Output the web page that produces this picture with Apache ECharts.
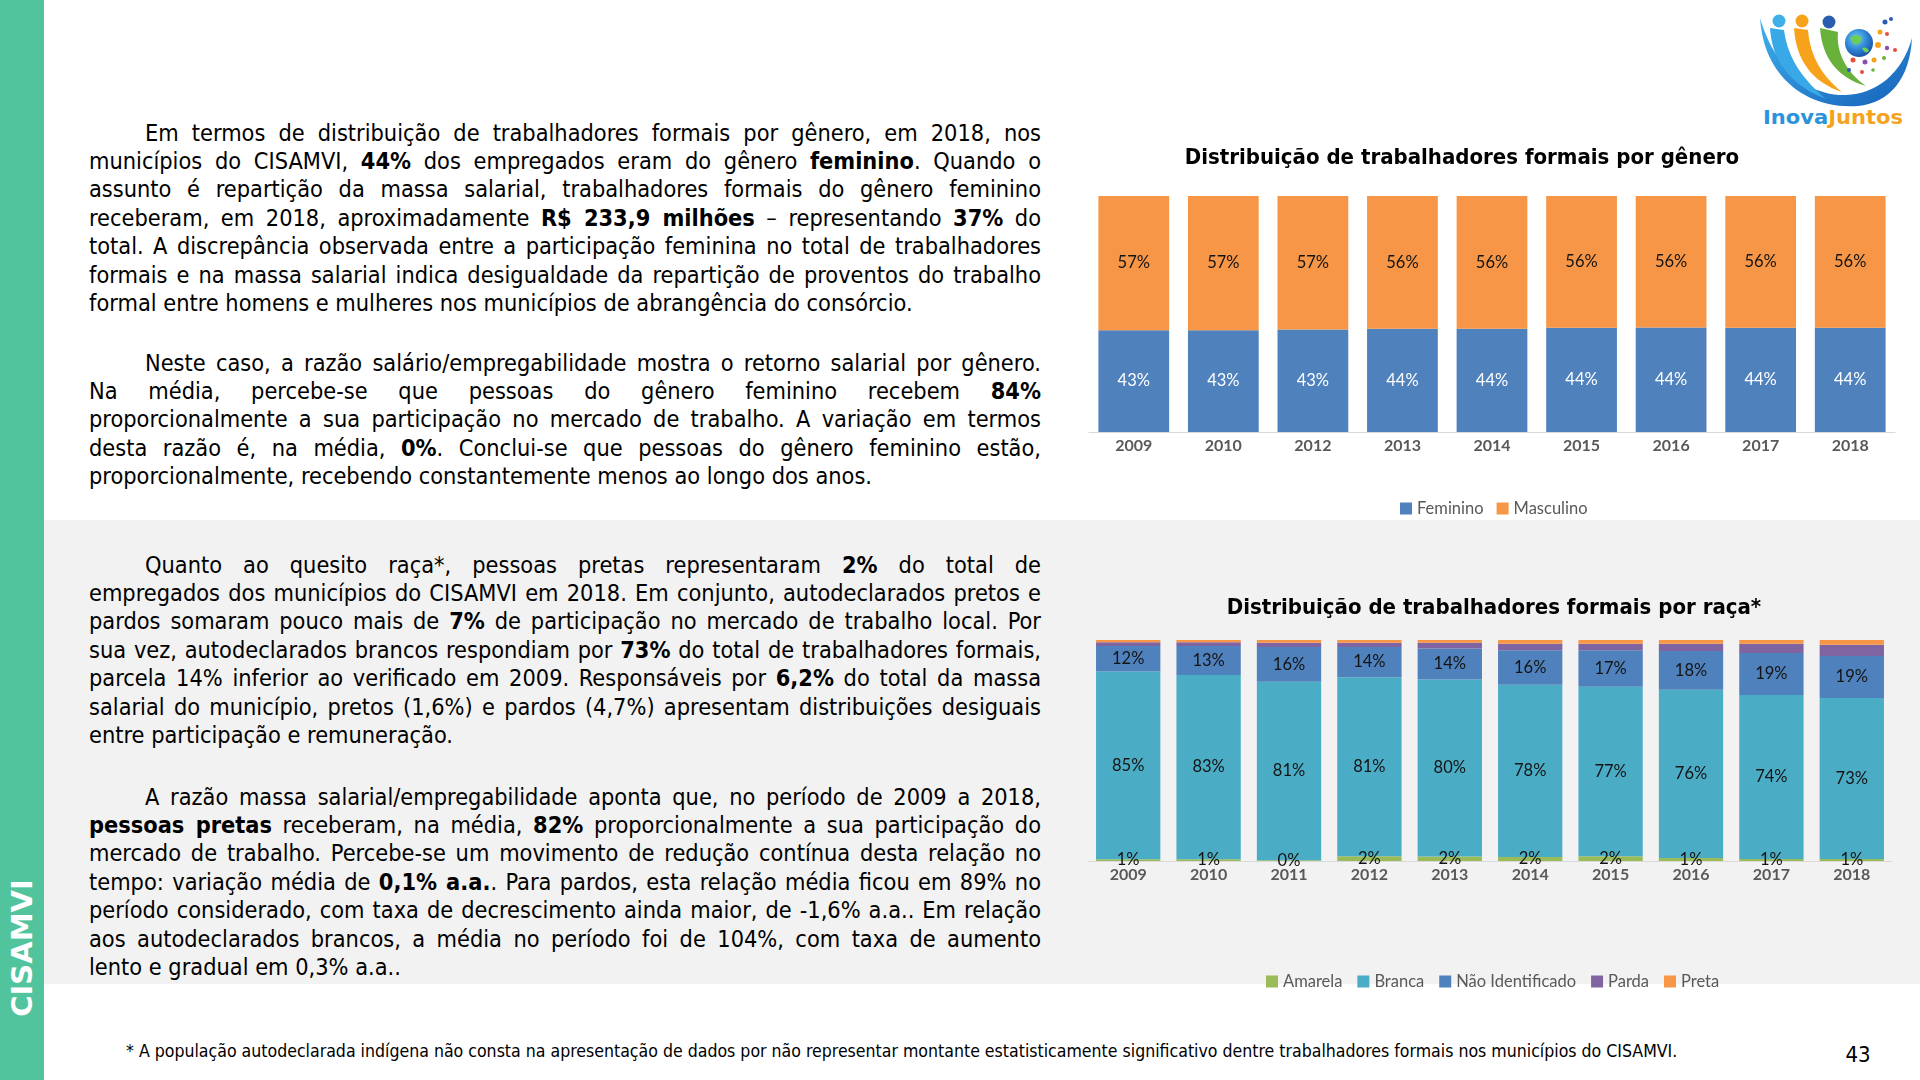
<!DOCTYPE html>
<html><head><meta charset="utf-8">
<script src="https://cdn.jsdelivr.net/npm/echarts@6/dist/echarts.min.js"></script>
<style>
html,body{margin:0;padding:0;width:1920px;height:1080px;overflow:hidden;background:#fff;}
#side{position:absolute;left:0;top:0;width:44px;height:1080px;background:#52c49d;}
#sideText{position:absolute;left:22px;top:948px;transform:translate(-50%,-50%) rotate(-90deg);color:#fff;font-weight:bold;font-size:29px;font-family:'DejaVu Sans',sans-serif;white-space:nowrap;}
#band{position:absolute;left:44px;top:520px;width:1876px;height:464px;background:#f2f2f2;}
.para{position:absolute;left:89px;width:952px;font-family:'DejaVu Sans Condensed','DejaVu Sans',sans-serif;color:#000;font-size:22px;}
.ln{white-space:nowrap;height:28.35px;line-height:28.35px;text-align:left;}
.ln.j{text-align:justify;text-align-last:justify;}
.ln.first{text-indent:56px;}
#foot{position:absolute;left:126px;top:1040px;font-family:'DejaVu Sans Condensed','DejaVu Sans',sans-serif;font-size:15px;white-space:nowrap;color:#000;line-height:22px;}
#page{position:absolute;left:1858px;top:1054px;transform:translate(-50%,-50%);font-family:'DejaVu Sans Condensed','DejaVu Sans',sans-serif;font-size:22px;color:#000;}
#logo{position:absolute;left:1750px;top:0;width:170px;height:140px;}
#chart{position:absolute;left:0;top:0;width:1920px;height:1080px;}
</style></head>
<body>
<div id="side"><div id="sideText">CISAMVI</div></div>
<div id="band"></div>

<div class="para" id="p1" style="top:118.8px">
<div class="ln first"><span>Em termos de distribuição de trabalhadores formais por gênero, em 2018, nos</span></div>
<div class="ln"><span>municípios do CISAMVI, <b>44%</b> dos empregados eram do gênero <b>feminino</b>. Quando o</span></div>
<div class="ln"><span>assunto é repartição da massa salarial, trabalhadores formais do gênero feminino</span></div>
<div class="ln"><span>receberam, em 2018, aproximadamente <b>R$ 233,9 milhões</b> – representando <b>37%</b> do</span></div>
<div class="ln"><span>total. A discrepância observada entre a participação feminina no total de trabalhadores</span></div>
<div class="ln"><span>formais e na massa salarial indica desigualdade da repartição de proventos do trabalho</span></div>
<div class="ln last" id="refline"><span>formal entre homens e mulheres nos municípios de abrangência do consórcio.</span></div>
</div>

<div class="para" id="p2" style="top:348.8px">
<div class="ln first"><span>Neste caso, a razão salário/empregabilidade mostra o retorno salarial por gênero.</span></div>
<div class="ln"><span>Na média, percebe-se que pessoas do gênero feminino recebem <b>84%</b></span></div>
<div class="ln"><span>proporcionalmente a sua participação no mercado de trabalho. A variação em termos</span></div>
<div class="ln"><span>desta razão é, na média, <b>0%</b>. Conclui-se que pessoas do gênero feminino estão,</span></div>
<div class="ln last"><span>proporcionalmente, recebendo constantemente menos ao longo dos anos.</span></div>
</div>

<div class="para" id="p3" style="top:550.8px">
<div class="ln first"><span>Quanto ao quesito raça*, pessoas pretas representaram <b>2%</b> do total de</span></div>
<div class="ln"><span>empregados dos municípios do CISAMVI em 2018. Em conjunto, autodeclarados pretos e</span></div>
<div class="ln"><span>pardos somaram pouco mais de <b>7%</b> de participação no mercado de trabalho local. Por</span></div>
<div class="ln"><span>sua vez, autodeclarados brancos respondiam por <b>73%</b> do total de trabalhadores formais,</span></div>
<div class="ln"><span>parcela 14% inferior ao verificado em 2009. Responsáveis por <b>6,2%</b> do total da massa</span></div>
<div class="ln"><span>salarial do município, pretos (1,6%) e pardos (4,7%) apresentam distribuições desiguais</span></div>
<div class="ln last"><span>entre participação e remuneração.</span></div>
</div>

<div class="para" id="p4" style="top:782.8px">
<div class="ln first"><span>A razão massa salarial/empregabilidade aponta que, no período de 2009 a 2018,</span></div>
<div class="ln"><span><b>pessoas pretas</b> receberam, na média, <b>82%</b> proporcionalmente a sua participação do</span></div>
<div class="ln"><span>mercado de trabalho. Percebe-se um movimento de redução contínua desta relação no</span></div>
<div class="ln"><span>tempo: variação média de <b>0,1% a.a.</b>. Para pardos, esta relação média ficou em 89% no</span></div>
<div class="ln"><span>período considerado, com taxa de decrescimento ainda maior, de -1,6% a.a.. Em relação</span></div>
<div class="ln"><span>aos autodeclarados brancos, a média no período foi de 104%, com taxa de aumento</span></div>
<div class="ln last"><span>lento e gradual em 0,3% a.a..</span></div>
</div>

<div id="foot"><span>* A população autodeclarada indígena não consta na apresentação de dados por não representar montante estatisticamente significativo dentre trabalhadores formais nos municípios do CISAMVI.</span></div>
<div id="page">43</div>

<svg id="logo" viewBox="0 0 170 140" xmlns="http://www.w3.org/2000/svg">
<defs>
<linearGradient id="gb" x1="0" y1="0" x2="1" y2="1"><stop offset="0" stop-color="#3fb2f0"/><stop offset="1" stop-color="#1560b8"/></linearGradient>
<radialGradient id="gg" cx="0.4" cy="0.35" r="0.7"><stop offset="0" stop-color="#6fd0f5"/><stop offset="0.6" stop-color="#2a7fd0"/><stop offset="1" stop-color="#1a4fa0"/></radialGradient>
</defs>
<path d="M10,18 C14,80 60,110 108,106 C140,103 160,78 162,38 C152,74 126,94 96,95 C56,96 24,66 10,18 Z" fill="url(#gb)"/>
<path d="M20,28 C22,62 42,86 76,99 C54,80 38,60 34,30 Z" fill="#38a9e6"/>
<path d="M44,28 C46,60 62,82 92,92 C72,76 60,56 58,30 Z" fill="#f7a21b"/>
<path d="M70,28 C72,58 88,78 116,86 C96,72 86,52 88,32 Z" fill="#68b23c"/>
<circle cx="29" cy="21" r="6.5" fill="#3fb0e8"/>
<circle cx="52" cy="21" r="6.5" fill="#f7a21b"/>
<circle cx="79" cy="22" r="6.5" fill="#2a5db0"/>
<circle cx="109" cy="43" r="14" fill="url(#gg)"/>
<path d="M100,38 q6,-6 12,0 q-2,8 -8,6 z M112,48 q5,-2 7,3 q-4,4 -7,-3 z" fill="#6ccf55"/>
<circle cx="135" cy="22" r="2.5" fill="#2a5db0"/>
<circle cx="141" cy="19" r="2" fill="#2a5db0"/>
<circle cx="130" cy="32" r="2.5" fill="#f7a21b"/>
<circle cx="137" cy="34" r="2" fill="#e84c3d"/>
<circle cx="128" cy="45" r="3" fill="#f7a21b"/>
<circle cx="137" cy="48" r="2.2" fill="#8b4fb0"/>
<circle cx="145" cy="50" r="2" fill="#e84c3d"/>
<circle cx="103" cy="60" r="2.5" fill="#e84c3d"/>
<circle cx="115" cy="62" r="2.5" fill="#8b4fb0"/>
<circle cx="124" cy="60" r="2.5" fill="#f7a21b"/>
<circle cx="134" cy="58" r="2" fill="#68b23c"/>
<circle cx="99" cy="70" r="2" fill="#2a5db0"/>
<circle cx="112" cy="72" r="2" fill="#e84c3d"/>
<circle cx="123" cy="70" r="1.8" fill="#68b23c"/>
<text x="13" y="123.5" textLength="140" lengthAdjust="spacingAndGlyphs" font-family="DejaVu Sans Condensed, DejaVu Sans, sans-serif" font-weight="bold" font-size="20"><tspan fill="#2b93dc">Inova</tspan><tspan fill="#f5a31f">Juntos</tspan></text>
</svg>

<div id="chart"></div>

<script>
// ---- DATA ----
const yearsGenero = ['2009','2010','2012','2013','2014','2015','2016','2017','2018'];
const feminino  = [43.1, 43.1, 43.4, 43.8, 43.8, 44.2, 44.3, 44.2, 44.2];
const masculino = [56.9, 56.9, 56.6, 56.2, 56.2, 55.8, 55.7, 55.8, 55.8];

const yearsRaca = ['2009','2010','2011','2012','2013','2014','2015','2016','2017','2018'];
const amarela         = [0.8, 0.8, 0.3, 2.1, 2.0, 1.8, 2.2, 1.4, 0.9, 0.9];
const branca          = [85.0, 83.4, 80.8, 81.1, 80.1, 77.9, 76.6, 76.1, 74.2, 72.9];
const naoIdentificado = [11.5, 13.1, 15.7, 13.6, 14.0, 15.7, 16.6, 17.5, 19.0, 19.0];
const parda           = [1.7, 1.7, 2.0, 2.0, 2.7, 2.9, 2.9, 3.3, 4.2, 5.1];
const preta           = [1.0, 1.0, 1.2, 1.2, 1.2, 1.7, 1.7, 1.7, 1.7, 2.1];

const tituloGenero = 'Distribuição de trabalhadores formais por gênero';
const tituloRaca = 'Distribuição de trabalhadores formais por raça*';

// ---- text layout fitting ----
(function(){
  const paras = document.querySelectorAll('.para');
  const ref = document.querySelector('#refline span');
  let fs = 22;
  const w = ref.getBoundingClientRect().width;
  fs = Math.max(18, Math.min(26, fs * 824 / w));
  paras.forEach(p => p.style.fontSize = fs + 'px');
  document.querySelectorAll('.ln').forEach(ln => {
    if (ln.classList.contains('last')) return;
    const sp = ln.querySelector('span');
    const indent = ln.classList.contains('first') ? 56 : 0;
    const nat = sp.getBoundingClientRect().width + indent;
    if (nat > 950) {
      const n = sp.textContent.length;
      sp.style.letterSpacing = (-(nat - 950) / n) + 'px';
    }
    ln.classList.add('j');
  });
  const foot = document.querySelector('#foot span');
  const fw = foot.getBoundingClientRect().width;
  const ffs = 15 * 1552 / fw;
  document.getElementById('foot').style.fontSize = ffs + 'px';
})();

// ---- chart ----
const chart = echarts.init(document.getElementById('chart'), null, {width:1920, height:1080});
const pct = p => Math.round(p.value) + '%';
const labelDark = {show:true, position:'inside', color:'#141414', fontSize:16.5, fontFamily:'Lato', formatter:pct};
const catAxis = (idx, data) => ({
  gridIndex: idx, type:'category', data,
  axisTick:{show:false},
  axisLine:{lineStyle:{color:'#d9d9d9', width:1}},
  axisLabel:{color:'#595959', fontSize:16, fontWeight:'bold', fontFamily:'Lato', margin:6}
});
const legendText = {color:'#595959', fontSize:16.5, fontFamily:'Lato'};

chart.setOption({
  animation:false,
  textStyle:{fontFamily:'Lato'},
  graphic:[
    {type:'text', x:1462, y:158, style:{text:tituloGenero, font:'bold 22px "DejaVu Sans Condensed", "DejaVu Sans", sans-serif', fill:'#000', textAlign:'center', textVerticalAlign:'middle', align:'center', verticalAlign:'middle'}},
    {type:'text', x:1494, y:608, style:{text:tituloRaca, font:'bold 22px "DejaVu Sans Condensed", "DejaVu Sans", sans-serif', fill:'#000', textAlign:'center', textVerticalAlign:'middle', align:'center', verticalAlign:'middle'}}
  ],
  grid:[
    {left:1089, top:196, width:806, height:236},
    {left:1088, top:640, width:804, height:221}
  ],
  xAxis:[catAxis(0, yearsGenero), catAxis(1, yearsRaca)],
  yAxis:[
    {gridIndex:0, type:'value', min:0, max:100, show:false},
    {gridIndex:1, type:'value', min:0, max:100, show:false}
  ],
  legend:[
    {data:['Feminino','Masculino'], left:1395, top:495, icon:'rect', itemWidth:12, itemHeight:12, itemGap:13, textStyle:legendText},
    {data:['Amarela','Branca','Não Identificado','Parda','Preta'], left:1261, top:968, icon:'rect', itemWidth:12, itemHeight:12, itemGap:15, textStyle:legendText}
  ],
  series:[
    {name:'Feminino', type:'bar', stack:'g', xAxisIndex:0, yAxisIndex:0, data:feminino, barCategoryGap:'21%',
      itemStyle:{color:'#4f81bd'}, label:{show:true, position:'inside', color:'#ffffff', fontSize:16.5, fontFamily:'Lato', formatter:pct}},
    {name:'Masculino', type:'bar', stack:'g', xAxisIndex:0, yAxisIndex:0, data:masculino, barCategoryGap:'21%',
      itemStyle:{color:'#f79646'}, label:labelDark},
    {name:'Amarela', type:'bar', stack:'r', xAxisIndex:1, yAxisIndex:1, data:amarela, barCategoryGap:'20%',
      itemStyle:{color:'#9bbb59'}, label:labelDark},
    {name:'Branca', type:'bar', stack:'r', xAxisIndex:1, yAxisIndex:1, data:branca, barCategoryGap:'20%',
      itemStyle:{color:'#4bacc6'}, label:labelDark},
    {name:'Não Identificado', type:'bar', stack:'r', xAxisIndex:1, yAxisIndex:1, data:naoIdentificado, barCategoryGap:'20%',
      itemStyle:{color:'#4f81bd'}, label:labelDark},
    {name:'Parda', type:'bar', stack:'r', xAxisIndex:1, yAxisIndex:1, data:parda, barCategoryGap:'20%',
      itemStyle:{color:'#8064a2'}, label:{show:false}},
    {name:'Preta', type:'bar', stack:'r', xAxisIndex:1, yAxisIndex:1, data:preta, barCategoryGap:'20%',
      itemStyle:{color:'#f79646'}, label:{show:false}}
  ]
});
</script>
</body></html>
